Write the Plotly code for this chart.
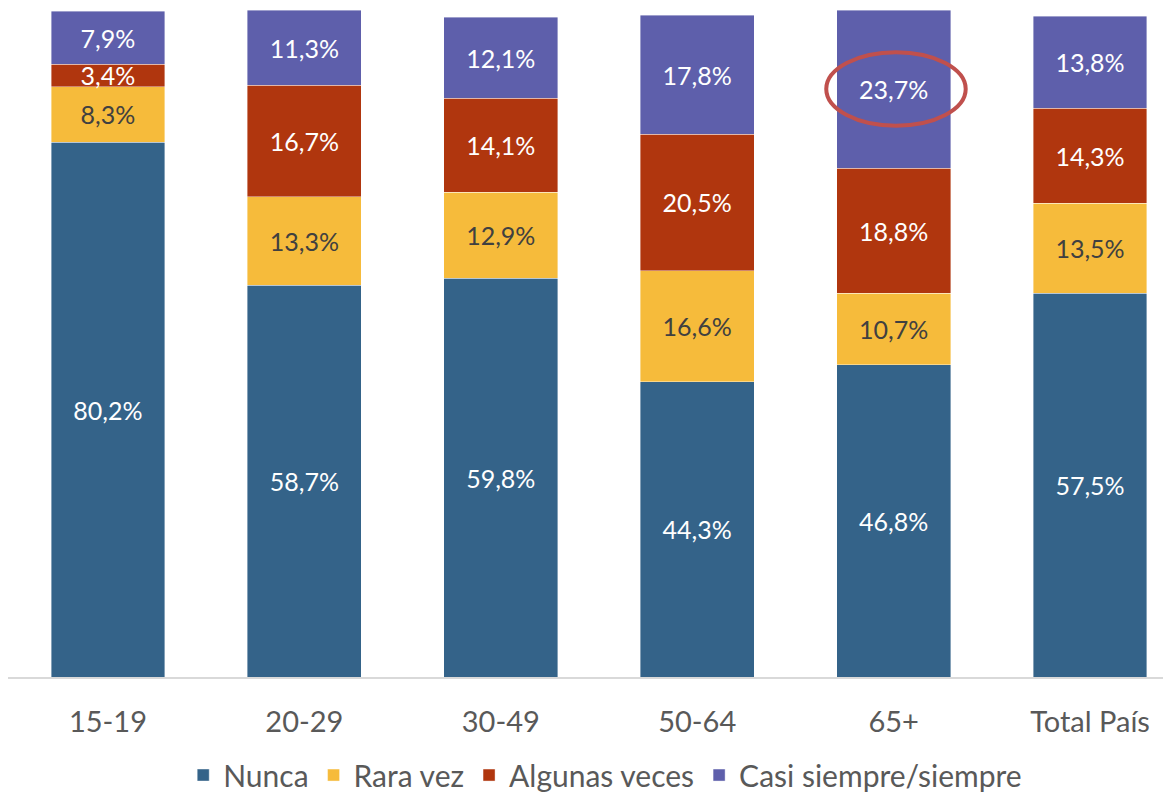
import plotly.graph_objects as go

categories = ["15-19", "20-29", "30-49", "50-64", "65+", "Total País"]
nunca = [80.2, 58.7, 59.8, 44.3, 46.8, 57.5]
rara_vez = [8.3, 13.3, 12.9, 16.6, 10.7, 13.5]
algunas_veces = [3.4, 16.7, 14.1, 20.5, 18.8, 14.3]
casi_siempre = [7.9, 11.3, 12.1, 17.8, 23.7, 13.8]

series = [
    ("Nunca", nunca, "#346389", "white"),
    ("Rara vez", rara_vez, "#f6bb3b", "#404040"),
    ("Algunas veces", algunas_veces, "#b0360e", "white"),
    ("Casi siempre/siempre", casi_siempre, "#5e5fab", "white"),
]

FONT = "Lato, 'Open Sans', sans-serif"

fig = go.Figure()
for name, vals, color, tcol in series:
    fig.add_trace(go.Bar(
        name=name, x=categories, y=vals,
        marker=dict(color=color, line=dict(color="rgba(255,255,255,0.5)", width=0.8)),
        text=[f"{v:.1f}%".replace(".", ",") for v in vals],
        textposition="inside", insidetextanchor="middle", textangle=0,
        textfont=dict(color=tcol, size=25, family=FONT),
        hoverinfo="skip",
    ))

# highlight ellipse around the 65+ "Casi siempre/siempre" label
idx = categories.index("65+")
base = nunca[idx] + rara_vez[idx] + algunas_veces[idx]
yc = base + casi_siempre[idx] / 2
xc = idx + 0.012
fig.add_shape(type="circle", xref="x", yref="y",
              x0=xc - 0.355, x1=xc + 0.355, y0=yc - 5.5, y1=yc + 5.5,
              line=dict(color="#c0504d", width=4))

fig.update_layout(
    barmode="stack", bargap=0.42,
    width=1171, height=799,
    margin=dict(l=0, r=0, t=2, b=130),
    paper_bgcolor="white", plot_bgcolor="white",
    font=dict(family=FONT, color="#595959"),
    showlegend=True,
    legend=dict(orientation="h", x=0.51, xanchor="center",
                yref="container", y=0.04, yanchor="middle",
                font=dict(size=30, color="#595959", family=FONT),
                traceorder="normal", itemwidth=30),
    uniformtext=dict(minsize=25, mode="show"),
)
fig.update_xaxes(range=[-0.509, 5.453], showline=True, linecolor="#d9d9d9", linewidth=2,
                 ticks="", tickfont=dict(size=29, color="#595959", family=FONT),
                 ticklabelstandoff=18, automargin=False,
                 showgrid=False, fixedrange=True)
fig.update_yaxes(range=[0, 100], visible=False, showgrid=False, fixedrange=True)

fig.write_html("out.html")
